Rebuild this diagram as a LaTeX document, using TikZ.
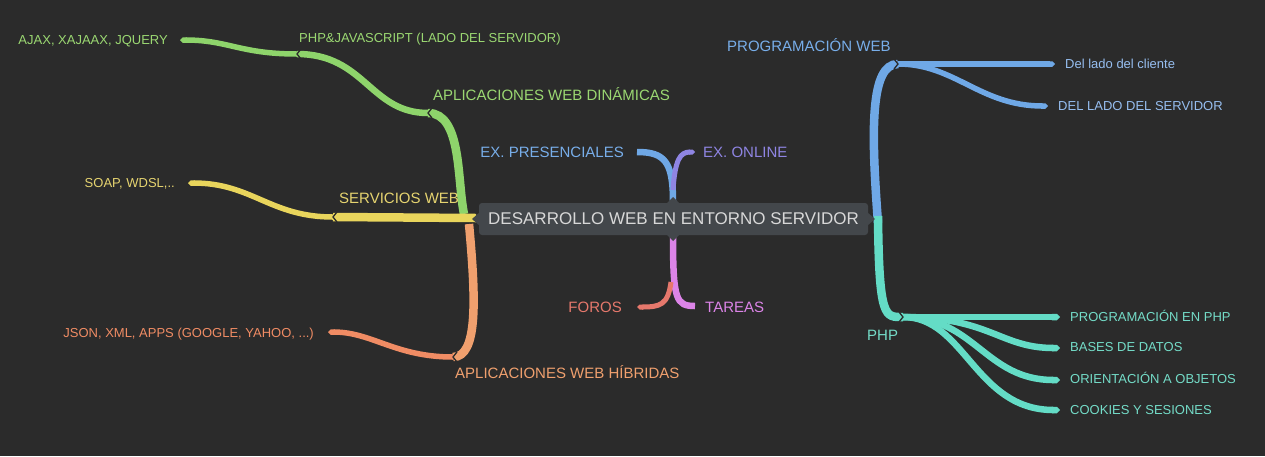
\documentclass[tikz,border=0pt]{standalone}
\usepackage{fontspec}
\setmainfont{Liberation Sans}
\usetikzlibrary{arrows.meta}
\definecolor{bg}{HTML}{2B2B2B}
\definecolor{boxc}{HTML}{43474B}
\definecolor{boxtext}{HTML}{D8D8D8}
\definecolor{cgreen}{HTML}{8ED46B}
\definecolor{tgreen}{HTML}{9BD872}
\definecolor{cyellow}{HTML}{E9D55C}
\definecolor{tyellow}{HTML}{E6D470}
\definecolor{corange}{HTML}{F0A06E}
\definecolor{csalmon}{HTML}{F08C64}
\definecolor{cblue}{HTML}{6FA8E6}
\definecolor{tblue}{HTML}{78AEEA}
\definecolor{tlblue}{HTML}{96BEF0}
\definecolor{cpurple}{HTML}{8F85E3}
\definecolor{cforos}{HTML}{E6786C}
\definecolor{ctareas}{HTML}{DC84E8}
\definecolor{cteal}{HTML}{64DCC6}
\definecolor{tteal}{HTML}{74DCC8}
\begin{document}
\begin{tikzpicture}[x=1pt,y=-1pt,
  mainbr/.style={line width=8.5pt, line cap=butt},
  subbr/.style={line width=6.5pt, line cap=butt},
  leafbr/.style={line width=5.5pt, line cap=butt, -{Triangle Cap}},
  biglab/.style={font=\fontsize{15}{18}\selectfont, inner sep=0pt, text height=10.7pt, text depth=0pt},
  smalllab/.style={font=\fontsize{13}{16}\selectfont, inner sep=0pt, text height=9.3pt, text depth=0pt},
  notchline/.style={draw=bg, line width=1.3pt},
  pointer/.style={fill=boxc}
]
\fill[bg] (0,0) rectangle (1265,456);
\useasboundingbox (0,0) rectangle (1265,456);

% ---------- junction coordinates ----------
\coordinate (rootLg) at (464,214);
\coordinate (rootLy) at (476,218);
\coordinate (rootLo) at (469,224);
\coordinate (rootT) at (673,202);
\coordinate (rootB) at (673,236);
\coordinate (rootRb) at (878,223);
\coordinate (rootRt) at (878,216);
\coordinate (jdyn) at (428,113);
\coordinate (jphpjs) at (297,54);
\coordinate (jajax) at (180,40);
\coordinate (jserv) at (333,217);
\coordinate (jsoap) at (188,183);
\coordinate (jhib) at (453,357);
\coordinate (jjson) at (328,332);
\coordinate (jpres) at (637,152);
\coordinate (jonline) at (695,152);
\coordinate (jforos) at (637,307);
\coordinate (jtareas) at (695,306);
\coordinate (jpweb) at (898,64);
\coordinate (jcli) at (1055,64);
\coordinate (jsrv) at (1048,106);
\coordinate (jphp) at (903,317);
\coordinate (jpphp) at (1060,317);
\coordinate (jbases) at (1060,348);
\coordinate (jorient) at (1060,380);
\coordinate (jcook) at (1060,410);

% ---------- left side ----------
\draw[mainbr, cgreen] (rootLg) .. controls (457,180) and (462,113) .. (jdyn);
\draw[subbr, cgreen] (jdyn) .. controls (370,113) and (365,54) .. (jphpjs);
\draw[leafbr, cgreen] (jphpjs) .. controls (240,54) and (228,40) .. (jajax);

\draw[mainbr, cyellow] (rootLy) -- (jserv);
\draw[leafbr, cyellow] (jserv) .. controls (270,217) and (252,183) .. (jsoap);

\draw[mainbr, corange] (rootLo) .. controls (476,300) and (478,357) .. (jhib);
\draw[leafbr, csalmon] (jhib) .. controls (395,357) and (372,332) .. (jjson);

% ---------- top / bottom ----------
\draw[subbr, cblue] (rootT) .. controls (673,162) and (665,152) .. (jpres);
\draw[leafbr, line width=5pt, cpurple] (673,190) .. controls (675,160) and (680,152) .. (jonline);
\draw[subbr, ctareas] (rootB) .. controls (673,300) and (676,306) .. (jtareas);
\draw[leafbr, line width=5pt, cforos] (671,282) .. controls (668,305) and (660,307) .. (jforos);

% ---------- right side ----------
\draw[mainbr, cblue] (rootRb) .. controls (871,130) and (870,64) .. (jpweb);
\draw[leafbr, cblue] (jpweb) -- (jcli);
\draw[leafbr, cblue] (jpweb) .. controls (955,64) and (980,106) .. (jsrv);

\draw[mainbr, cteal] (rootRt) .. controls (879,320) and (885,317) .. (jphp);
\draw[leafbr, line width=6.5pt, cteal] (jphp) .. controls (965,317) and (975,410) .. (jcook);
\draw[leafbr, line width=6.5pt, cteal] (jphp) .. controls (975,317) and (985,380) .. (jorient);
\draw[leafbr, line width=6.5pt, cteal] (jphp) .. controls (990,317) and (1000,348) .. (jbases);
\draw[leafbr, line width=6.5pt, cteal] (jphp) -- (jpphp);

% ---------- junction notches ----------
\draw[notchline] (432,108) -- (428,113) -- (432,118);
\draw[notchline] (301,49) -- (297,54) -- (301,59);
\draw[notchline] (337,212) -- (333,217) -- (337,222);
\draw[notchline] (457,352) -- (453,357) -- (457,362);
\draw[notchline] (894,59) -- (898,64) -- (894,69);
\draw[notchline] (899,312) -- (903,317) -- (899,322);

% ---------- central node ----------
\fill[pointer] (480,212) -- (472,219) -- (480,226) -- cycle;
\fill[pointer] (867,212) -- (875,219) -- (867,226) -- cycle;
\fill[pointer] (666,204) -- (673,197) -- (680,204) -- cycle;
\fill[pointer] (666,234) -- (673,241) -- (680,234) -- cycle;
\node[fill=boxc, rounded corners=3pt, minimum width=389pt, minimum height=32pt, inner sep=0pt,
      text=boxtext, font=\fontsize{17}{20}\selectfont] (center) at (673.5,219) {DESARROLLO WEB EN ENTORNO SERVIDOR};

% ---------- labels ----------
\node[smalllab, text=tgreen, anchor=east] (ajax) at (168,40) {AJAX, XAJAAX, JQUERY};
\node[smalllab, text=tgreen, anchor=west] (phpjs) at (299,38) {PHP\&JAVASCRIPT (LADO DEL SERVIDOR)};
\node[biglab, text=tgreen, anchor=west] (dyn) at (433,95) {APLICACIONES WEB DINÁMICAS};
\node[biglab, text=tyellow, anchor=west] (serv) at (339,198) {SERVICIOS WEB};
\node[smalllab, text=tyellow, anchor=east] (soap) at (175,183) {SOAP, WDSL,..};
\node[smalllab, text=csalmon, anchor=east] (json) at (314,333) {JSON, XML, APPS (GOOGLE, YAHOO, ...)};
\node[biglab, text=corange, anchor=west] (hib) at (455,373) {APLICACIONES WEB HÍBRIDAS};
\node[biglab, text=tblue, anchor=east] (pres) at (624,152) {EX. PRESENCIALES};
\node[biglab, text=cpurple, anchor=west] (online) at (703,152) {EX. ONLINE};
\node[biglab, text=cforos, anchor=east] (foros) at (622,307) {FOROS};
\node[biglab, text=ctareas, anchor=west] (tareas) at (705,307) {TAREAS};
\node[biglab, text=tblue, anchor=west] (pweb) at (727,46) {PROGRAMACIÓN WEB};
\node[smalllab, text=tlblue, anchor=west] (cli) at (1065,64) {Del lado del cliente};
\node[smalllab, text=tlblue, anchor=west] (srv) at (1058,106) {DEL LADO DEL SERVIDOR};
\node[biglab, text=tteal, anchor=west] (php) at (867,335) {PHP};
\node[smalllab, text=tteal, anchor=west] (pphp) at (1070,317) {PROGRAMACIÓN EN PHP};
\node[smalllab, text=tteal, anchor=west] (bases) at (1070,347) {BASES DE DATOS};
\node[smalllab, text=tteal, anchor=west] (orient) at (1070,379) {ORIENTACIÓN A OBJETOS};
\node[smalllab, text=tteal, anchor=west] (cook) at (1070,410) {COOKIES Y SESIONES};
\end{tikzpicture}
\end{document}
